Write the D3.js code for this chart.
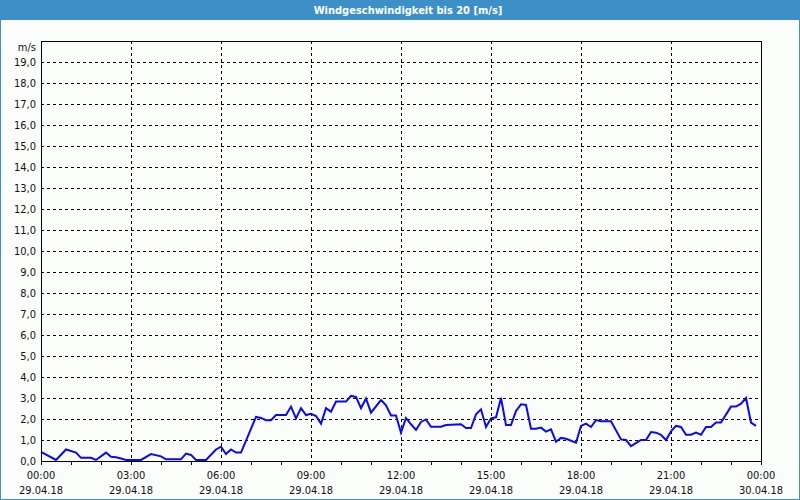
<!DOCTYPE html>
<html>
<head>
<meta charset="utf-8">
<script src="https://cdn.jsdelivr.net/npm/d3@7"></script>
<style>
  html, body { margin: 0; padding: 0; background: #fbfdfb; }
  svg { display: block; }
  text { font-family: Tahoma, "DejaVu Sans Condensed", "DejaVu Sans", sans-serif; }
</style>
</head>
<body>
<svg id="chart" width="800" height="500"></svg>
<script>
const titleText = "Windgeschwindigkeit bis 20 [m/s]";
const unitLabel = "m/s";
const yTicks = [0,1,2,3,4,5,6,7,8,9,10,11,12,13,14,15,16,17,18,19];
const xTickTimes = ["2018-04-29T00:00","2018-04-29T03:00","2018-04-29T06:00","2018-04-29T09:00","2018-04-29T12:00","2018-04-29T15:00","2018-04-29T18:00","2018-04-29T21:00","2018-04-30T00:00"];
const xTickLabels1 = ["00:00","03:00","06:00","09:00","12:00","15:00","18:00","21:00","00:00"];
const xTickLabels2 = ["29.04.18","29.04.18","29.04.18","29.04.18","29.04.18","29.04.18","29.04.18","29.04.18","30.04.18"];

const times = ["00:00","00:30","00:50","01:10","01:20","01:40","01:50","02:10","02:20","02:30","02:40","02:50","03:20","03:40","04:00","04:10","04:40","04:50","05:00","05:10","05:30","05:50","06:00","06:10","06:20","06:30","06:40","07:10","07:20","07:30","07:40","07:50","08:10","08:20","08:30","08:40","08:50","09:00","09:10","09:20","09:30","09:40","09:50","10:10","10:20","10:30","10:40","10:50","11:00","11:20","11:30","11:40","11:50","12:00","12:10","12:20","12:30","12:40","12:50","13:00","13:20","13:30","14:00","14:10","14:20","14:30","14:40","14:50","15:00","15:10","15:20","15:30","15:40","15:50","16:00","16:10","16:20","16:30","16:40","16:50","17:00","17:10","17:20","17:30","17:50","18:00","18:10","18:20","18:30","18:40","19:00","19:20","19:30","19:40","20:00","20:10","20:20","20:30","20:40","20:50","21:00","21:10","21:20","21:30","21:40","21:50","22:00","22:10","22:20","22:30","22:40","23:00","23:10","23:20","23:30","23:40","23:50"];
const speeds = [0.44,0.05,0.55,0.40,0.15,0.15,0.05,0.40,0.20,0.18,0.12,0.05,0.05,0.33,0.22,0.08,0.08,0.35,0.29,0.05,0.05,0.55,0.68,0.33,0.55,0.40,0.40,2.10,2.05,1.94,1.94,2.19,2.19,2.59,2.03,2.52,2.19,2.25,2.14,1.78,2.52,2.35,2.83,2.83,3.10,3.05,2.52,2.98,2.30,2.90,2.65,2.17,2.17,1.35,2.05,1.75,1.48,1.86,1.98,1.63,1.63,1.71,1.75,1.57,1.57,2.22,2.46,1.62,2.03,2.08,3.00,1.71,1.71,2.38,2.70,2.67,1.54,1.54,1.59,1.40,1.51,0.92,1.10,1.06,0.87,1.67,1.78,1.62,1.95,1.89,1.89,1.03,1.00,0.71,1.00,1.00,1.38,1.35,1.25,1.00,1.41,1.67,1.62,1.25,1.25,1.35,1.25,1.62,1.62,1.83,1.83,2.59,2.59,2.73,3.00,1.83,1.67];

const svg = d3.select("#chart");
const W = 800, H = 500;
const plot = {left: 41, right: 761, top: 41, bottom: 461};
const blue = "#3c90c7";

svg.append("rect").attr("x",0).attr("y",0).attr("width",W).attr("height",H).attr("fill","#fbfdfb");
svg.append("rect").attr("x",0).attr("y",0).attr("width",W).attr("height",20).attr("fill",blue);
svg.append("rect").attr("x",0.5).attr("y",0.5).attr("width",W-1).attr("height",H-1).attr("fill","none").attr("stroke",blue).attr("stroke-width",1);
svg.append("text").attr("x",408).attr("y",14).attr("text-anchor","middle").attr("fill","#ffffff")
  .attr("font-size","11px").attr("font-weight","bold").text(titleText);

const parse = d3.timeParse("%Y-%m-%dT%H:%M");
const x = d3.scaleTime().domain([parse("2018-04-29T00:00"), parse("2018-04-30T00:00")]).range([plot.left, plot.right]);
const y = d3.scaleLinear().domain([0, 20]).range([plot.bottom, plot.top]);

const g = svg.append("g");

// horizontal grid
g.selectAll("line.hg").data(yTicks.filter(v => v > 0)).enter().append("line")
  .attr("x1", plot.left).attr("x2", plot.right)
  .attr("y1", d => Math.round(y(d)) + 0.5).attr("y2", d => Math.round(y(d)) + 0.5)
  .attr("stroke","#000").attr("stroke-width",1).attr("stroke-dasharray","3,3");

// vertical grid
const xTickDates = xTickTimes.map(parse);
g.selectAll("line.vg").data(xTickDates.slice(1, -1)).enter().append("line")
  .attr("x1", d => Math.round(x(d)) + 0.5).attr("x2", d => Math.round(x(d)) + 0.5)
  .attr("y1", plot.top).attr("y2", plot.bottom)
  .attr("stroke","#000").attr("stroke-width",1).attr("stroke-dasharray","3,3");

// hourly ticks below axis
const hourTicks = d3.timeHour.range(parse("2018-04-29T00:00"), d3.timeHour.offset(parse("2018-04-30T00:00"), 1));
g.selectAll("line.ht").data(hourTicks).enter().append("line")
  .attr("x1", d => Math.round(x(d)) + 0.5).attr("x2", d => Math.round(x(d)) + 0.5)
  .attr("y1", plot.bottom).attr("y2", plot.bottom + 4)
  .attr("stroke","#000").attr("stroke-width",1);

// border
g.append("rect").attr("x", plot.left + 0.5).attr("y", plot.top + 0.5)
  .attr("width", plot.right - plot.left).attr("height", plot.bottom - plot.top)
  .attr("fill","none").attr("stroke","#000").attr("stroke-width",1);

// y labels
const fmt = v => d3.format(".1f")(v).replace(".", ",");
g.selectAll("text.yl").data(yTicks).enter().append("text")
  .attr("x", 36).attr("y", d => y(d)).attr("dy","0.35em").attr("text-anchor","end")
  .attr("font-size","11px").attr("fill","#111").text(fmt);
g.append("text").attr("x",36).attr("y",47).attr("dy","0.35em").attr("text-anchor","end")
  .attr("font-size","11px").attr("fill","#111").text(unitLabel);

// x labels
g.selectAll("text.xl1").data(xTickDates).enter().append("text")
  .attr("x", d => x(d)).attr("y", 475).attr("dy","0.35em").attr("text-anchor","middle")
  .attr("font-size","11px").attr("fill","#111").text((d,i) => xTickLabels1[i]);
g.selectAll("text.xl2").data(xTickDates).enter().append("text")
  .attr("x", d => x(d)).attr("y", 490).attr("dy","0.35em").attr("text-anchor","middle")
  .attr("font-size","11px").attr("fill","#111").text((d,i) => xTickLabels2[i]);

// data line
const data = times.map((t, i) => ({t: parse("2018-04-29T" + t), v: speeds[i]}));
const line = d3.line().x(d => x(d.t)).y(d => y(d.v));
g.append("path").datum(data).attr("d", line)
  .attr("fill","none").attr("stroke","#0a0aee").attr("stroke-width",2).attr("stroke-linejoin","miter");
</script>
</body>
</html>
